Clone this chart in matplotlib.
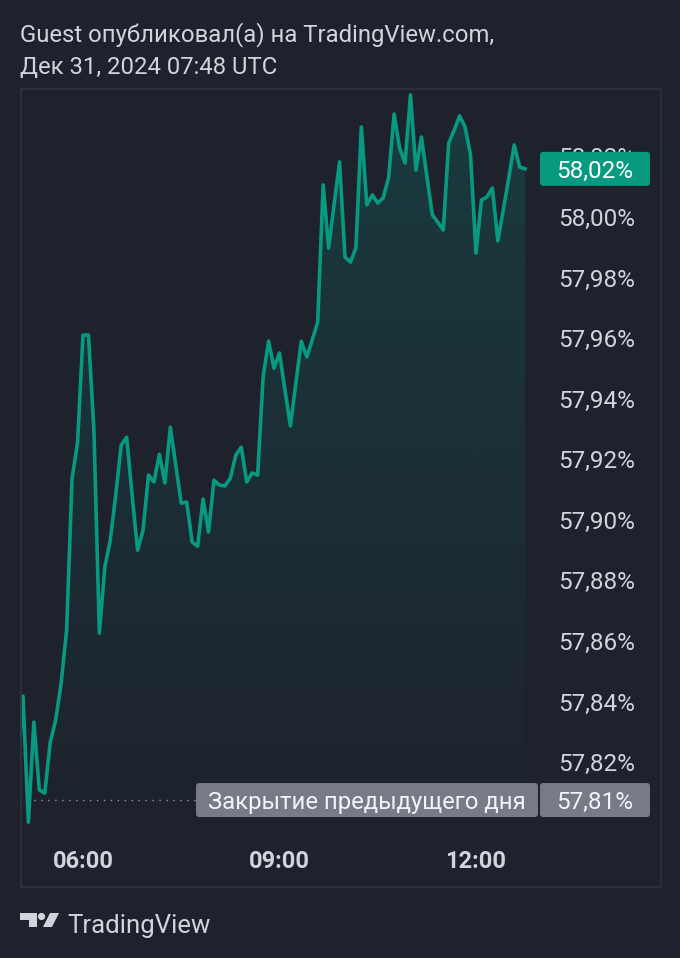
import matplotlib
matplotlib.use("Agg")
import matplotlib.pyplot as plt
import matplotlib.dates as mdates
from matplotlib.patches import Rectangle, FancyBboxPatch, Circle, Polygon
from matplotlib.transforms import IdentityTransform
from matplotlib.colors import to_rgb
import numpy as np
import pandas as pd

plt.rcParams['font.family'] = ['Roboto', 'DejaVu Sans']

# ---------------- data ----------------
header_line1 = "Guest опубликовал(а) на TradingView.com,"
header_line2 = "Дек 31, 2024 07:48 UTC"
brand = "TradingView"

first_time = "2024-12-31 05:02"
start_time = "2024-12-31 05:05"
step = "5min"
values = [
    57.8273, 57.8418, 57.8002, 57.8332, 57.8108, 57.8098, 57.8266, 57.8339, 57.8461, 57.8636, 57.9138, 57.9254,
    57.9610, 57.9610, 57.9297, 57.8626, 57.8844, 57.8933, 57.9082, 57.9247, 57.9273, 57.9082, 57.8900, 57.8966,
    57.9148, 57.9125, 57.9217, 57.9122, 57.9306, 57.9181, 57.9055, 57.9059, 57.8927, 57.8913, 57.9069, 57.8960,
    57.9131, 57.9115, 57.9112, 57.9138, 57.9214, 57.9240, 57.9125, 57.9155, 57.9148, 57.9472, 57.9590, 57.9501,
    57.9551, 57.9429, 57.9310, 57.9452, 57.9590, 57.9538, 57.9594, 57.9653, 58.0106, 57.9898, 58.0040, 58.0182,
    57.9868, 57.9851, 57.9898, 58.0297, 58.0040, 58.0073, 58.0046, 58.0063, 58.0132, 58.0340, 58.0228, 58.0178,
    58.0403, 58.0155, 58.0264, 58.0135, 58.0007, 57.9983, 57.9957, 58.0244, 58.0287, 58.0334, 58.0297, 58.0205,
    57.9881, 58.0056, 58.0066, 58.0096, 57.9921, 58.0023, 58.0129, 58.0238, 58.0165, 58.0159,
]
prev_close = 57.8075
prev_close_text = "Закрытие предыдущего дня"
price_ticks = [57.82, 57.84, 57.86, 57.88, 57.90, 57.92, 57.94, 57.96, 57.98, 58.00, 58.02]
time_ticks = ["2024-12-31 06:00", "2024-12-31 09:00", "2024-12-31 12:00"]
time_tick_labels = ["06:00", "09:00", "12:00"]
x_limits = ("2024-12-31 05:02:18", "2024-12-31 14:48:33")
y_limits = (57.7943, 58.0426)


def pct(v):
    return f"{v:.2f}%".replace(".", ",")


times = pd.DatetimeIndex([pd.Timestamp(first_time)]).append(
    pd.date_range(start_time, periods=len(values) - 1, freq=step))
xnum = mdates.date2num(times.to_pydatetime())

# ---------------- style ----------------
W, H = 680, 958
BG = "#1e222d"
LINE = "#089981"
TXT = "#d1d4dc"
GRAY_BOX = "#787b86"
BORDER = "#2e323d"

fig = plt.figure(figsize=(W / 100, H / 100), dpi=100, facecolor=BG)
ax = fig.add_axes([20 / W, (H - 840) / H, 640 / W, (840 - 88) / H])
ax.set_facecolor(BG)
for s in ax.spines.values():
    s.set_visible(False)

x0n, x1n = mdates.date2num(pd.Timestamp(x_limits[0])), mdates.date2num(pd.Timestamp(x_limits[1]))

# gradient fill under the line
verts = list(zip(xnum, values)) + [(xnum[-1], y_limits[0]), (xnum[0], y_limits[0])]
poly = Polygon(verts, closed=True, fc='none', ec='none')
ax.add_patch(poly)
n = 256
rgba = np.zeros((n, 1, 4))
rgba[..., :3] = to_rgb(LINE)
rgba[..., 3] = np.linspace(0.22, 0.0, n).reshape(-1, 1)
im = ax.imshow(rgba, extent=[xnum[0], xnum[-1], y_limits[0], y_limits[1]],
               aspect='auto', origin='upper', zorder=1, interpolation='bilinear')
im.set_clip_path(poly)

ax.plot(xnum, values, color=LINE, lw=2.6, zorder=3, solid_joinstyle='round')

ax.set_xlim(x0n, x1n)
ax.set_ylim(*y_limits)

# y ticks inside, right
ax.yaxis.tick_right()
ax.set_yticks(price_ticks)
ax.set_yticklabels([pct(v) for v in price_ticks])
ax.tick_params(axis='y', length=0, pad=-18, labelsize=17.5, labelcolor=TXT)
for lbl in ax.get_yticklabels():
    lbl.set_horizontalalignment('right')

ax.set_xticks(mdates.date2num([pd.Timestamp(t) for t in time_ticks]))
ax.set_xticklabels(time_tick_labels, fontweight='bold')
ax.tick_params(axis='x', length=0, pad=7, labelsize=17, labelcolor=TXT)
ax.grid(False)

# previous close dotted line (up to the label)
ax.axhline(prev_close, xmin=0, xmax=(196 - 20) / 640, color="#9598a1", lw=1.0,
           linestyle=(0, (1, 4)), zorder=2)

fig.canvas.draw()
ident = IdentityTransform()


def ypix(v):
    return ax.transData.transform((x0n, v))[1]


# last value label
last_y = ypix(values[-1])
fig.add_artist(FancyBboxPatch((540, last_y - 17), 110, 34,
                              boxstyle="round,pad=0,rounding_size=3",
                              transform=ident, fc=LINE, ec='none', zorder=5))
fig.text(595, last_y, pct(values[-1]), transform=ident, ha='center', va='center_baseline',
         color='white', fontsize=17.5, zorder=6)

# previous close labels
pc_y = ypix(prev_close)
fig.add_artist(FancyBboxPatch((196, pc_y - 17), 342, 34,
                              boxstyle="round,pad=0,rounding_size=3",
                              transform=ident, fc=GRAY_BOX, ec='none', zorder=5))
fig.text(367, pc_y, prev_close_text, transform=ident, ha='center', va='center_baseline',
         color='#f0f3fa', fontsize=17.2, zorder=6)
fig.add_artist(FancyBboxPatch((540, pc_y - 17), 110, 34,
                              boxstyle="round,pad=0,rounding_size=3",
                              transform=ident, fc=GRAY_BOX, ec='none', zorder=5))
fig.text(595, pc_y, pct(prev_close), transform=ident, ha='center', va='center_baseline',
         color='#f0f3fa', fontsize=17.5, zorder=6)

# border
fig.add_artist(Rectangle((20.5, H - 886.5), 640, 798, transform=ident,
                         fc='none', ec=BORDER, lw=1.2, zorder=4))

# header
fig.text(20, H - 32, header_line1, transform=ident, ha='left', va='center_baseline',
         color=TXT, fontsize=17.2)
fig.text(20, H - 65, header_line2, transform=ident, ha='left', va='center_baseline',
         color=TXT, fontsize=17.2)

# footer logo
def P(x, y):
    return (x, H - y)

logo_c = TXT
fig.add_artist(Polygon([P(20, 913), P(37, 913), P(37, 927), P(29, 927), P(29, 920), P(20, 920)],
                       closed=True, transform=ident, fc=logo_c, ec='none'))
fig.add_artist(Circle(P(41.5, 916.5), 3.6, transform=ident, fc=logo_c, ec='none'))
fig.add_artist(Polygon([P(50, 913), P(59, 913), P(52, 927), P(43, 927)],
                       closed=True, transform=ident, fc=logo_c, ec='none'))
fig.text(67, H - 923, brand, transform=ident, ha='left', va='center_baseline',
         color=TXT, fontsize=18.5)

fig.savefig("out.png", dpi=100, facecolor=BG)
